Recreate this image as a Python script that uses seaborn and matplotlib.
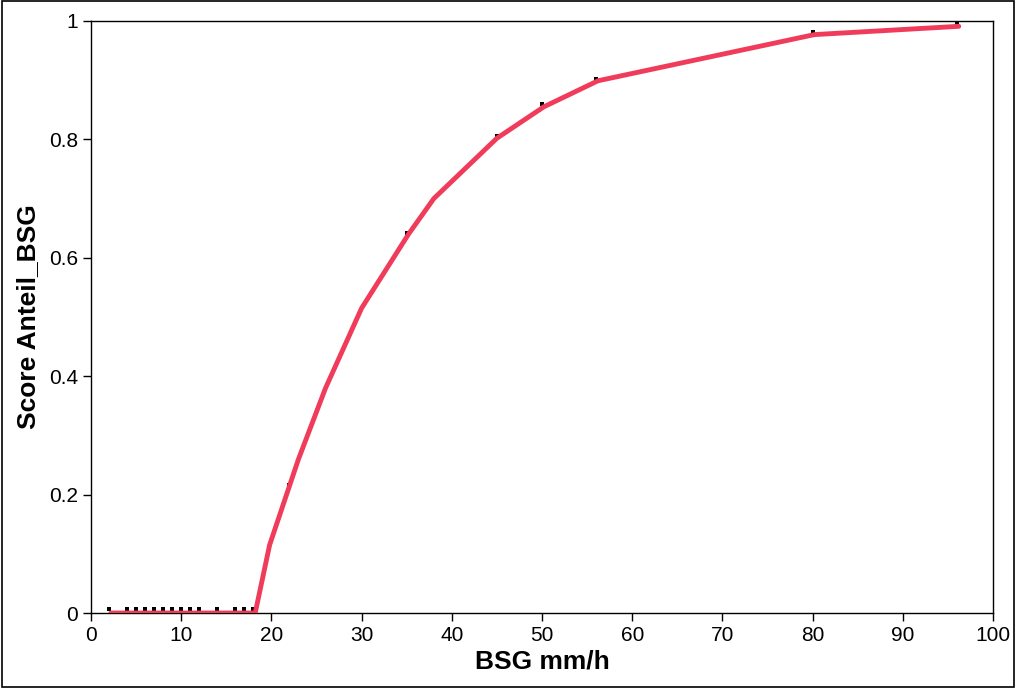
import numpy as np
import pandas as pd
import matplotlib
matplotlib.use("Agg")
import matplotlib.pyplot as plt
import seaborn as sns

# Linie (Score-Kurve)
kurve_x = [2.2, 18.2, 19.8, 23.0, 26.0, 30.0, 35.2, 38.0, 45.0, 50.2, 56.2, 80.2, 96.2]
kurve_y = [0.0, 0.0, 0.115, 0.26, 0.38, 0.515, 0.64, 0.70, 0.802, 0.855, 0.899, 0.977, 0.991]

# Messpunkte
punkte_x = [2, 4, 5, 6, 7, 8, 9, 10, 11, 12, 14, 16, 17, 18, 22, 35, 45, 50, 56, 80, 96]
punkte_y = [0.007] * 14 + [0.216, 0.642, 0.806, 0.859, 0.902, 0.981, 0.995]

x_ticks = [0, 10, 20, 30, 40, 50, 60, 70, 80, 90, 100]
y_ticks = [0, 0.2, 0.4, 0.6, 0.8, 1]
y_labels = ["0", "0.2", "0.4", "0.6", "0.8", "1"]

sns.set_style("white")
plt.rcParams['font.family'] = ['Liberation Sans', 'DejaVu Sans']
plt.rcParams['text.color'] = 'black'
plt.rcParams['axes.labelcolor'] = 'black'
plt.rcParams['xtick.color'] = 'black'
plt.rcParams['ytick.color'] = 'black'

fig = plt.figure(figsize=(10.16, 6.88), dpi=100)
ax = fig.add_axes([0.0896, 0.109, 0.8878, 0.8605])

df_k = pd.DataFrame({'x': kurve_x, 'y': kurve_y})
df_p = pd.DataFrame({'x': punkte_x, 'y': punkte_y})

sns.scatterplot(data=df_p, x='x', y='y', marker='s', s=7, color='black',
                linewidth=0, ax=ax, zorder=2)
sns.lineplot(data=df_k, x='x', y='y', color='#f03c5a', linewidth=3.5,
             ax=ax, zorder=3, sort=False)

ax.set_xlim(0, 100)
ax.set_ylim(0, 1)
ax.set_xticks(x_ticks)
ax.set_yticks(y_ticks)
ax.set_yticklabels(y_labels)
ax.tick_params(direction='out', length=6, width=1, color='black',
               labelcolor='black', labelsize=15, bottom=True, left=True)
for s in ax.spines.values():
    s.set_color('black')
    s.set_linewidth(1)

ax.set_xlabel('BSG mm/h', fontsize=19, fontweight='bold', labelpad=3, color='black')
ax.set_ylabel('Score Anteil_BSG', fontsize=19, fontweight='bold', labelpad=6, color='black')

# Rahmen um die ganze Grafik
fig.patches.append(plt.Rectangle((0.002, 0.002), 0.996, 0.996, transform=fig.transFigure,
                                 fill=False, edgecolor='black', linewidth=1.2))

plt.savefig('out.png', dpi=100)
